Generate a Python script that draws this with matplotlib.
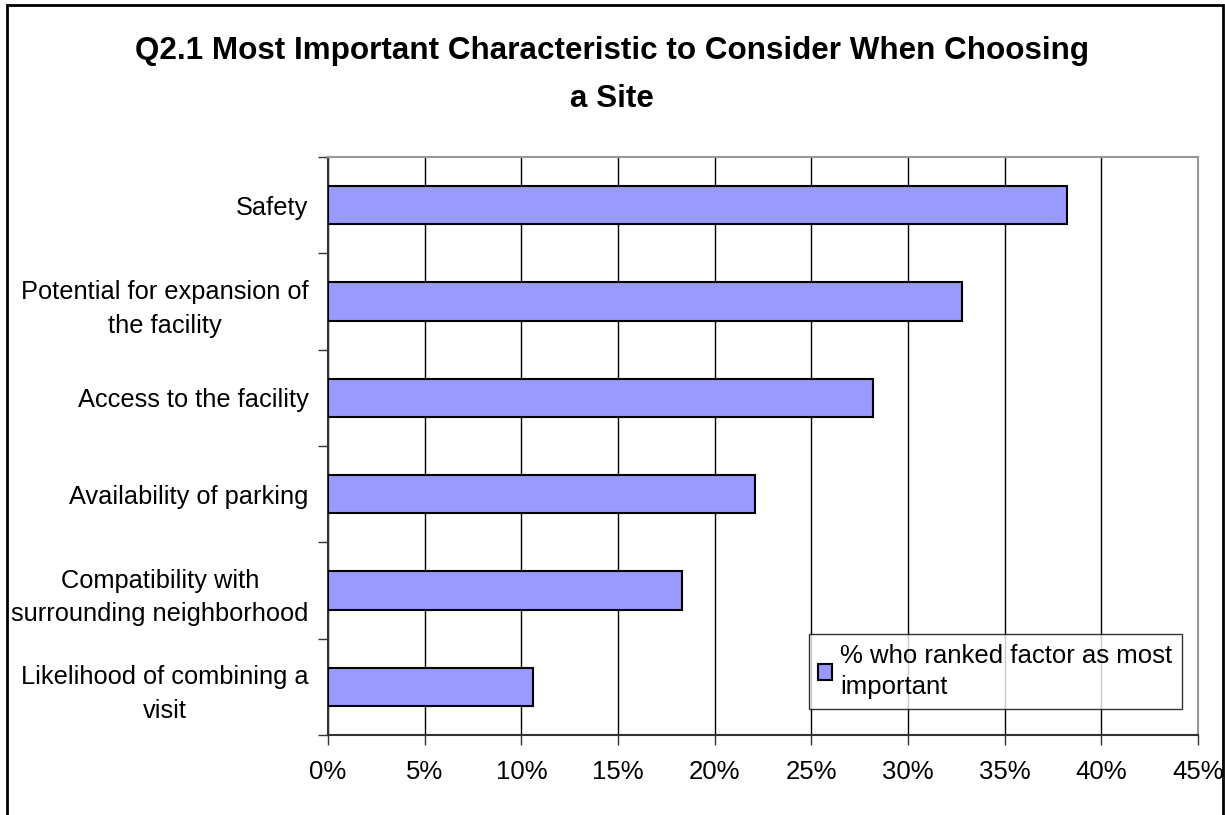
import matplotlib.pyplot as plt
from matplotlib.patches import Rectangle
from matplotlib.ticker import FuncFormatter, MultipleLocator

categories = ['Safety', 'Potential for expansion of\nthe facility', 'Access to the facility',
              'Availability of parking', 'Compatibility with\nsurrounding neighborhood',
              'Likelihood of combining a\nvisit']
values = [38.2, 32.8, 28.2, 22.1, 18.3, 10.6]
series_name = '% who ranked factor as most\nimportant'
title = 'Q2.1 Most Important Characteristic to Consider When Choosing\na Site'

plt.rcParams['font.family'] = ['Liberation Sans', 'DejaVu Sans']

fig = plt.figure(figsize=(12.25, 8.15), dpi=100)
W, H = 1225, 815
ax = fig.add_axes([328 / W, 1 - 735 / H, (1198 - 328) / W, (735 - 157) / H])

y = list(range(len(categories)))[::-1]
ax.barh(y, values, height=0.4, color='#9999ff', edgecolor='black', linewidth=1.5,
        label=series_name, zorder=3)

ax.set_xlim(0, 45)
ax.set_ylim(-0.5, len(categories) - 0.5)
ax.xaxis.set_major_locator(MultipleLocator(5))
ax.xaxis.set_major_formatter(FuncFormatter(lambda v, p: f'{v:.0f}%'))
ax.grid(axis='x', color='black', linewidth=1, zorder=0)

ax.set_yticks(y)
ax.set_yticklabels(categories, multialignment='center', fontsize=18.3, linespacing=1.5)
ax.set_yticks([i - 0.5 for i in range(len(categories) + 1)], minor=True)
ax.tick_params(axis='y', which='major', length=0, pad=14)
ax.tick_params(axis='y', which='minor', length=7, width=1, color='#333333')
ax.tick_params(axis='x', length=7, width=1, color='#333333', labelsize=18.5, pad=11)

ax.spines['left'].set_color('#333333')
ax.spines['left'].set_linewidth(1.5)
ax.spines['bottom'].set_color('#333333')
ax.spines['bottom'].set_linewidth(1.5)
ax.spines['top'].set_color('#999999')
ax.spines['right'].set_color('#999999')
ax.spines['top'].set_linewidth(1.5)
ax.spines['right'].set_linewidth(1.5)

leg = ax.legend(loc='lower right', bbox_to_anchor=((1182 - 328) / 870, (735 - 709) / 578),
                fontsize=18.5, frameon=True, fancybox=False, edgecolor='black',
                handlelength=0.55, handleheight=0.55, handletextpad=0.3,
                borderpad=0.38, borderaxespad=0)
leg.get_frame().set_linewidth(1)
for t in leg.get_texts():
    t.set_linespacing(1.4)

fig.text(612 / W, 1 - 75 / H, title, ha='center', va='center', fontsize=22.6,
         fontweight='bold', linespacing=1.75)

fig.patches.append(Rectangle((7 / W, -0.05), (1223 - 7) / W, 1 - 5 / H + 0.05,
                             transform=fig.transFigure, fill=False,
                             edgecolor='black', linewidth=2))

fig.savefig('out.png', dpi=100)
